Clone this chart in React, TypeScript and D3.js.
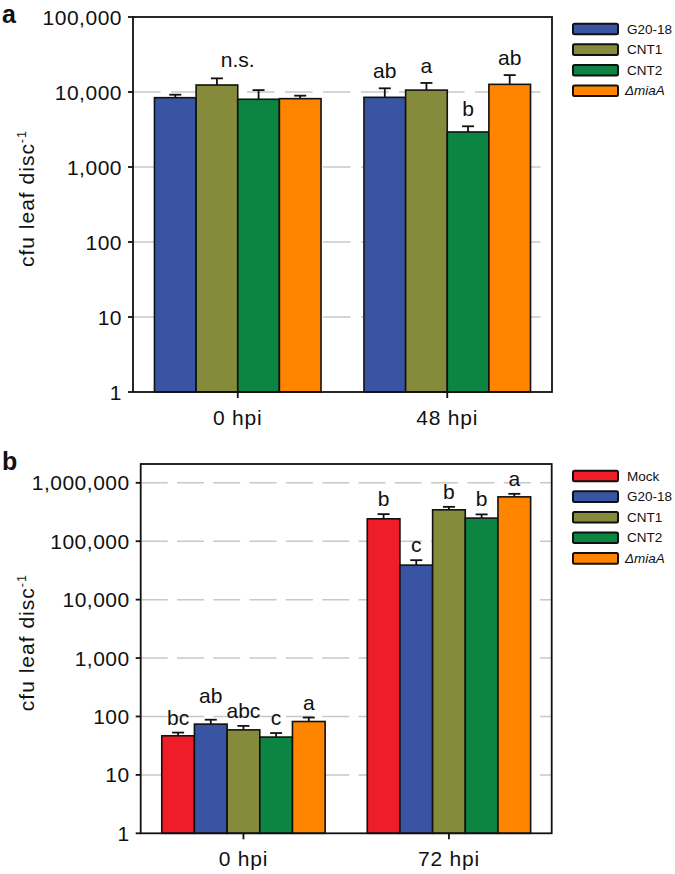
import React from "react";
import * as d3 from "d3";

// panel a
const strainsA = ["G20-18", "CNT1", "CNT2", "ΔmiaA"];
const timesA = ["0 hpi", "48 hpi"];
const meansA = [
  [8400, 12400, 8000, 8150],
  [8490, 10600, 2930, 12650],
];
const errTopA = [
  [9200, 15200, 10600, 8930],
  [11200, 13200, 3490, 16800],
];
const lettersA = [
  ["", "", "", ""],
  ["ab", "a", "b", "ab"],
];
const groupNoteA = ["n.s.", ""];

// panel b
const strainsB = ["Mock", "G20-18", "CNT1", "CNT2", "ΔmiaA"];
const timesB = ["0 hpi", "72 hpi"];
const meansB = [
  [46.7, 74, 59, 44.4, 82],
  [242000, 39000, 345000, 249000, 575000],
];
const errTopB = [
  [53, 88, 69, 52, 96],
  [291000, 47400, 388000, 288000, 648000],
];
const lettersB = [
  ["bc", "ab", "abc", "c", "a"],
  ["b", "c", "b", "b", "a"],
];
const groupNoteB = ["", ""];

const yTicksA = [1, 10, 100, 1000, 10000, 100000];
const yTicksB = [1, 10, 100, 1000, 10000, 100000, 1000000];

const colors: Record<string, string> = {
  Mock: "#ee1d27",
  "G20-18": "#3a54a4",
  CNT1: "#868a3b",
  CNT2: "#0c8442",
  ΔmiaA: "#ff8400",
};

const FONT = "'Liberation Sans', Arial, Helvetica, sans-serif";
const fmt = d3.format(",");

interface PanelProps {
  tag: string;
  strains: string[];
  times: string[];
  means: number[][];
  errTop: number[][];
  letters: string[][];
  notes: string[];
  ticks: number[];
  yMax: number;
  left: number;
  right: number;
  top: number;
  bottom: number;
  dash: string;
  letterGap: number;
  lift?: Record<string, number>;
}

function Panel(p: PanelProps) {
  const y = d3.scaleLog().domain([1, p.yMax]).range([p.bottom, p.top]);
  const x = d3.scaleBand().domain(p.times).range([p.left, p.right]).padding(0);
  const step = x.bandwidth();
  const inner = d3
    .scaleBand()
    .domain(p.strains)
    .range([step * 0.1025, step * 0.8975])
    .padding(0);
  const bw = inner.bandwidth();
  const legendY = p.top + 12;

  return (
    <g fontFamily={FONT}>
      {/* gridlines */}
      {p.ticks
        .filter((t) => y(t) > p.top + 2 && y(t) < p.bottom - 2)
        .map((t) => (
          <line
            key={"g" + t}
            x1={p.left}
            x2={p.right}
            y1={y(t)}
            y2={y(t)}
            stroke="#c8c8c8"
            strokeWidth={1.5}
            strokeDasharray={p.dash}
          />
        ))}

      {/* bars + error bars */}
      {p.times.map((tm, gi) => {
        const gx = x(tm) as number;
        return (
          <g key={tm}>
            {p.strains.map((s, si) => {
              const bx = gx + (inner(s) as number);
              const cx = bx + bw / 2;
              const top = y(p.means[gi][si]);
              const et = y(p.errTop[gi][si]);
              const lift = (p.lift && p.lift[gi + "-" + si]) || 0;
              return (
                <g key={s}>
                  <line x1={cx} x2={cx} y1={top} y2={et} stroke="#111" strokeWidth={1.8} />
                  <line x1={cx - 6} x2={cx + 6} y1={et} y2={et} stroke="#111" strokeWidth={1.8} />
                  <rect
                    x={bx}
                    y={top}
                    width={bw}
                    height={p.bottom - top}
                    fill={colors[s]}
                    stroke="#111"
                    strokeWidth={1.6}
                  />
                  {p.letters[gi][si] && (
                    <text
                      x={cx}
                      y={et - p.letterGap - lift}
                      textAnchor="middle"
                      fontSize={21}
                      fill="#111"
                    >
                      {p.letters[gi][si]}
                    </text>
                  )}
                </g>
              );
            })}
            {p.notes[gi] && (
              <text
                x={gx + step / 2}
                y={d3.min(p.errTop[gi].map((v) => y(v))) as number - 11}
                textAnchor="middle"
                fontSize={21}
                fill="#111"
              >
                {p.notes[gi]}
              </text>
            )}
            <line
              x1={gx + step / 2}
              x2={gx + step / 2}
              y1={p.bottom}
              y2={p.bottom + 6}
              stroke="#111"
              strokeWidth={1.8}
            />
            <text
              x={gx + step / 2}
              y={p.bottom + 32.5}
              textAnchor="middle"
              fontSize={21}
              letterSpacing={0.8}
              fill="#111"
            >
              {tm}
            </text>
          </g>
        );
      })}

      {/* frame */}
      <rect
        x={p.left}
        y={p.top}
        width={p.right - p.left}
        height={p.bottom - p.top}
        fill="none"
        stroke="#111"
        strokeWidth={1.8}
      />

      {/* y ticks */}
      {p.ticks.map((t) => (
        <g key={"t" + t}>
          <line x1={p.left - 5} x2={p.left} y1={y(t)} y2={y(t)} stroke="#111" strokeWidth={1.8} />
          <text
            x={p.left - 11}
            y={y(t)}
            textAnchor="end"
            dominantBaseline="central"
            fontSize={21}
            letterSpacing={0.5}
            fill="#111"
          >
            {fmt(t)}
          </text>
        </g>
      ))}

      {/* y title */}
      <text
        transform={`translate(34,${(p.top + p.bottom) / 2 - 6}) rotate(-90)`}
        textAnchor="middle"
        fontSize={21}
        letterSpacing={1}
        fill="#111"
      >
        cfu leaf disc
        <tspan fontSize={12.5} dy={-8}>
          -1
        </tspan>
      </text>

      {/* panel tag */}
      <text x={2} y={p.top + 6} fontSize={25} fontWeight="bold" fill="#111">
        {p.tag}
      </text>

      {/* legend */}
      {p.strains.map((s, i) => (
        <g key={"l" + s} transform={`translate(573,${legendY + i * 20.6})`}>
          <rect x={0} y={-5.3} width={45} height={10.6} rx={1.5} fill={colors[s]} stroke="#111" strokeWidth={2} />
          <text
            x={s === "ΔmiaA" ? 52 : 54}
            y={0}
            dominantBaseline="central"
            fontSize={13.5}
            fontStyle={s === "ΔmiaA" ? "italic" : "normal"}
            fill="#111"
          >
            {s}
          </text>
        </g>
      ))}
    </g>
  );
}

export default function App() {
  return (
    <div style={{ position: "absolute", left: 0, top: 0 }}>
      <svg width={675} height={874} style={{ display: "block", background: "#fff" }}>
        <Panel
          tag="a"
          strains={strainsA}
          times={timesA}
          means={meansA}
          errTop={errTopA}
          letters={lettersA}
          notes={groupNoteA}
          ticks={yTicksA}
          yMax={100000}
          left={133}
          right={552}
          top={17}
          bottom={392}
          dash="27.5,10.5"
          letterGap={10}
        />
        <Panel
          tag="b"
          strains={strainsB}
          times={timesB}
          means={meansB}
          errTop={errTopB}
          letters={lettersB}
          notes={groupNoteB}
          ticks={yTicksB}
          yMax={2100000}
          left={140.7}
          right={551.7}
          top={464}
          bottom={833.3}
          dash="27,9.3"
          letterGap={8}
          lift={{ "0-1": 9 }}
        />
      </svg>
    </div>
  );
}
